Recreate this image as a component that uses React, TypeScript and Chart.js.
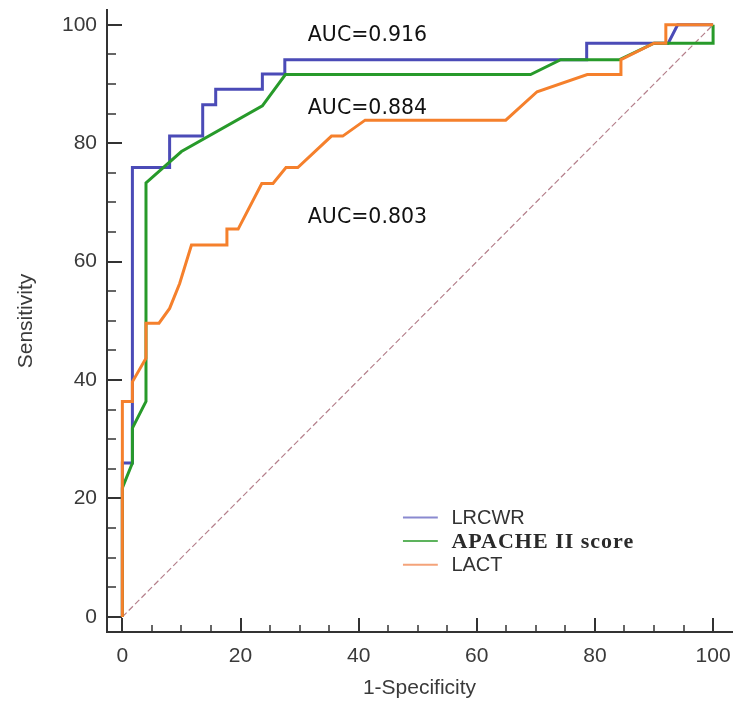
import { useEffect, useRef } from 'react';
import { Chart, registerables, type Plugin } from 'chart.js';

Chart.register(...registerables);

// ROC curves (1-specificity %, sensitivity %)
const lrcwrFpr = [0, 0, 1.7, 1.7, 8.0, 8.0, 13.6, 13.6, 15.8, 15.8, 23.7, 23.7, 27.5, 27.5, 78.6, 78.6, 92.4, 94.0, 100];
const lrcwrTpr = [0, 26.0, 26.0, 75.9, 75.9, 81.2, 81.2, 86.5, 86.5, 89.1, 89.1, 91.7, 91.7, 94.1, 94.1, 96.9, 96.9, 100, 100];

const apacheFpr = [0, 0, 1.7, 1.7, 4.0, 4.0, 10.0, 23.7, 27.6, 69.1, 74.2, 84.1, 90.0, 100, 100];
const apacheTpr = [0, 21.8, 26.0, 31.9, 36.4, 73.3, 78.6, 86.3, 91.6, 91.6, 94.1, 94.1, 96.9, 96.9, 100];

const lactFpr = [0, 0, 1.7, 1.7, 4.0, 4.0, 6.2, 8.0, 9.7, 11.7, 17.7, 17.7, 19.6, 23.6, 25.5, 27.7, 29.7, 35.4, 37.3, 41.1, 64.9, 70.2, 78.7, 84.4, 84.4, 90.0, 92.0, 92.0, 100];
const lactTpr = [0, 36.4, 36.4, 39.7, 43.7, 49.6, 49.6, 52.1, 56.3, 62.8, 62.8, 65.5, 65.5, 73.2, 73.2, 75.9, 75.9, 81.2, 81.2, 83.9, 83.9, 88.7, 91.6, 91.6, 94.1, 96.9, 96.9, 100, 100];

const refLine = [0, 100];

const seriesNames = ['LRCWR', 'APACHE II score', 'LACT'];
const aucTexts = ['AUC=0.916', 'AUC=0.884', 'AUC=0.803'];

const majorTicks = [0, 20, 40, 60, 80, 100];
const minorTicks = [0, 5, 10, 15, 20, 25, 30, 35, 40, 45, 50, 55, 60, 65, 70, 75, 80, 85, 90, 95, 100];

const toPoints = (xs: number[], ys: number[]) => xs.map((x, i) => ({ x, y: ys[i] }));

const axisColor = '#333333';
const textColor = '#3a3a3a';

// tick marks pointing into the plot, like the original software draws them
const innerTicks: Plugin = {
  id: 'innerTicks',
  beforeDatasetsDraw(chart) {
    const { ctx, chartArea: a } = chart;
    const x = chart.scales.x;
    const y = chart.scales.y;
    ctx.save();
    ctx.strokeStyle = axisColor;
    for (const v of minorTicks) {
      const major = majorTicks.includes(v);
      ctx.lineWidth = major ? 2 : 1.5;
      const px = Math.round(x.getPixelForValue(v));
      ctx.beginPath();
      ctx.moveTo(px, a.bottom);
      ctx.lineTo(px, a.bottom - (major ? 14 : 7));
      ctx.stroke();
      const py = Math.round(y.getPixelForValue(v));
      ctx.beginPath();
      ctx.moveTo(a.left, py);
      ctx.lineTo(a.left + (major ? 15 : 9), py);
      ctx.stroke();
    }
    ctx.restore();
  },
};

const legendColors = ['#8a8ad0', '#5db35d', '#f4a37a'];

const labelsPlugin: Plugin = {
  id: 'rocLabels',
  afterDatasetsDraw(chart) {
    const { ctx } = chart;
    const x = chart.scales.x;
    const y = chart.scales.y;
    ctx.save();
    // AUC annotations
    ctx.fillStyle = '#111111';
    ctx.font = '20.5px "DejaVu Sans"';
    ctx.textBaseline = 'middle';
    ctx.textAlign = 'left';
    const aucY = [98.2, 85.8, 67.4];
    aucTexts.forEach((t, i) => {
      ctx.fillText(t, x.getPixelForValue(31.4), y.getPixelForValue(aucY[i]));
    });
    // legend inside the plot
    const rowY = [16.8, 12.8, 8.8];
    seriesNames.forEach((name, i) => {
      const py = y.getPixelForValue(rowY[i]);
      ctx.strokeStyle = legendColors[i];
      ctx.lineWidth = 2;
      ctx.beginPath();
      ctx.moveTo(x.getPixelForValue(47.5), py);
      ctx.lineTo(x.getPixelForValue(53.4), py);
      ctx.stroke();
      if (i === 1) {
        ctx.fillStyle = '#2a2a2a';
        ctx.font = 'bold 22px "Liberation Serif"';
        (ctx as any).letterSpacing = '1px';
      } else {
        ctx.fillStyle = '#333333';
        ctx.font = '20px "Liberation Sans"';
        (ctx as any).letterSpacing = '0px';
      }
      ctx.fillText(name, x.getPixelForValue(55.7), py + 1);
    });
    ctx.restore();
  },
};

export default function App() {
  const canvasRef = useRef<HTMLCanvasElement>(null);

  useEffect(() => {
    if (!canvasRef.current) return;
    const line = (label: string, data: { x: number; y: number }[], color: string, order: number) => ({
      label,
      data,
      borderColor: color,
      backgroundColor: color,
      borderWidth: 3,
      pointRadius: 0,
      tension: 0,
      fill: false,
      order,
    });

    const chart = new Chart(canvasRef.current, {
      type: 'line',
      data: {
        datasets: [
          line(seriesNames[0], toPoints(lrcwrFpr, lrcwrTpr), '#4b4bb7', 3),
          line(seriesNames[1], toPoints(apacheFpr, apacheTpr), '#279a2a', 2),
          line(seriesNames[2], toPoints(lactFpr, lactTpr), '#f5802c', 1),
          {
            label: 'reference',
            data: toPoints(refLine, refLine),
            borderColor: '#b5808c',
            borderWidth: 1.2,
            borderDash: [6, 3],
            pointRadius: 0,
            fill: false,
            order: 4,
          },
        ],
      },
      options: {
        animation: false,
        responsive: true,
        maintainAspectRatio: false,
        events: [],
        layout: { padding: { top: 10, right: 3, left: 0, bottom: 0 } },
        plugins: {
          legend: { display: false },
          tooltip: { enabled: false },
        },
        scales: {
          x: {
            type: 'linear',
            min: -2.6,
            max: 103.2,
            afterBuildTicks: (axis) => {
              axis.ticks = majorTicks.map((value) => ({ value }));
            },
            afterFit: (axis) => {
              axis.height = 75;
              axis.paddingLeft = 0;
              axis.paddingRight = 0;
            },
            grid: { display: false, drawTicks: false },
            border: { display: true, color: axisColor, width: 2 },
            ticks: {
              color: textColor,
              padding: 12,
              font: { family: '"Liberation Sans", Arial', size: 21 },
              maxRotation: 0,
            },
            title: {
              display: true,
              text: '1-Specificity',
              color: textColor,
              font: { family: '"Liberation Sans", Arial', size: 21 },
              padding: { top: 0, bottom: 6 },
            },
          },
          y: {
            type: 'linear',
            min: -2.55,
            max: 102.5,
            afterBuildTicks: (axis) => {
              axis.ticks = majorTicks.map((value) => ({ value }));
            },
            afterFit: (axis) => {
              axis.width = 107;
              axis.paddingTop = 0;
              axis.paddingBottom = 0;
            },
            grid: { display: false, drawTicks: false },
            border: { display: true, color: axisColor, width: 2 },
            ticks: {
              color: textColor,
              padding: 10,
              font: { family: '"Liberation Sans", Arial', size: 21 },
            },
            title: {
              display: true,
              text: 'Sensitivity',
              color: textColor,
              font: { family: '"Liberation Sans", Arial', size: 21 },
              padding: { top: 14, bottom: 0 },
            },
          },
        },
      },
      plugins: [innerTicks, labelsPlugin],
    });

    return () => chart.destroy();
  }, []);

  return (
    <div style={{ position: 'fixed', left: 0, top: 0, width: 735, height: 707, background: '#ffffff' }}>
      <canvas ref={canvasRef} />
    </div>
  );
}
